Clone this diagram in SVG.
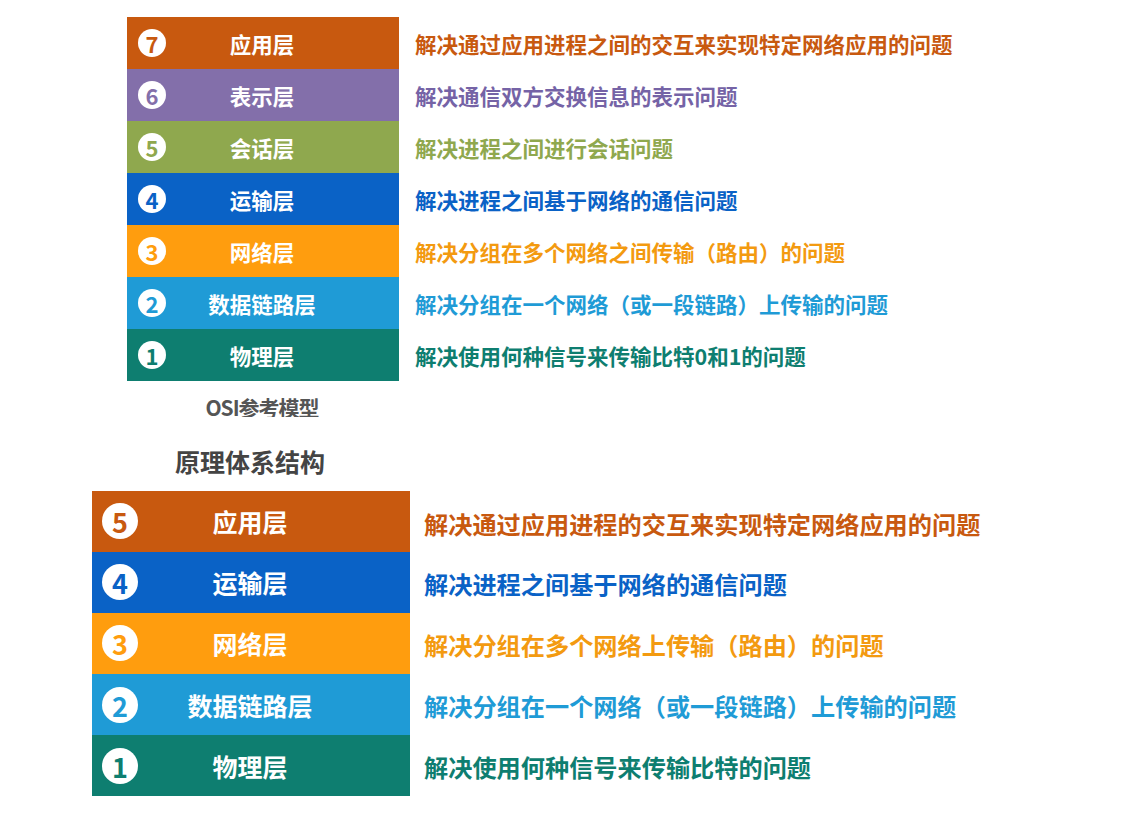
<svg xmlns="http://www.w3.org/2000/svg" width="1131" height="814" viewBox="0 0 1131 814">
<style>
text{font-family:"Noto Sans CJK SC","Noto Sans",sans-serif;font-weight:bold}
.lbl{fill:#fff;text-anchor:middle;dominant-baseline:central}
.t{font-size:21.5px}
.b{font-size:25px}
.nt{font-size:22px}
.nb{font-size:27px}
.num{text-anchor:middle;dominant-baseline:central}
.d1{font-size:21.5px;dominant-baseline:central}
.d2{font-size:24.2px;dominant-baseline:central}
</style>
<defs><clipPath id="cut"><rect x="0" y="0" width="1131" height="417"/></clipPath></defs>
<rect width="1131" height="814" fill="#fff"/>
<g id="osi">
<g id="osi7"><rect x="127" y="17" width="272" height="52" fill="#C8590F"/><circle cx="152" cy="43" r="14" fill="#fff"/><text class="num nt" x="152" y="43" fill="#C8590F">7</text><text class="lbl t" x="262" y="43">应用层</text><text class="d1" x="415" y="43" fill="#C8590F">解决通过应用进程之间的交互来实现特定网络应用的问题</text></g>
<g id="osi6"><rect x="127" y="69" width="272" height="52" fill="#836FAA"/><circle cx="152" cy="95" r="14" fill="#fff"/><text class="num nt" x="152" y="95" fill="#836FAA">6</text><text class="lbl t" x="262" y="95">表示层</text><text class="d1" x="415" y="95" fill="#7563A6">解决通信双方交换信息的表示问题</text></g>
<g id="osi5"><rect x="127" y="121" width="272" height="52" fill="#8FA84E"/><circle cx="152" cy="147" r="14" fill="#fff"/><text class="num nt" x="152" y="147" fill="#8FA84E">5</text><text class="lbl t" x="262" y="147">会话层</text><text class="d1" x="415" y="147" fill="#8FA84E">解决进程之间进行会话问题</text></g>
<g id="osi4"><rect x="127" y="173" width="272" height="52" fill="#0A62C6"/><circle cx="152" cy="199" r="14" fill="#fff"/><text class="num nt" x="152" y="199" fill="#0A62C6">4</text><text class="lbl t" x="262" y="199">运输层</text><text class="d1" x="415" y="199" fill="#0A62C6">解决进程之间基于网络的通信问题</text></g>
<g id="osi3"><rect x="127" y="225" width="272" height="52" fill="#FF9D0E"/><circle cx="152" cy="251" r="14" fill="#fff"/><text class="num nt" x="152" y="251" fill="#FF9D0E">3</text><text class="lbl t" x="262" y="251">网络层</text><text class="d1" x="415" y="251" fill="#F39A10">解决分组在多个网络之间传输（路由）的问题</text></g>
<g id="osi2"><rect x="127" y="277" width="272" height="52" fill="#1F9BD6"/><circle cx="152" cy="303" r="14" fill="#fff"/><text class="num nt" x="152" y="303" fill="#1F9BD6">2</text><text class="lbl t" x="262" y="303">数据链路层</text><text class="d1" x="415" y="303" fill="#1F9BD6">解决分组在一个网络（或一段链路）上传输的问题</text></g>
<g id="osi1"><rect x="127" y="329" width="272" height="52" fill="#0E7E70"/><circle cx="152" cy="355" r="14" fill="#fff"/><text class="num nt" x="152" y="355" fill="#0E7E70">1</text><text class="lbl t" x="262" y="355">物理层</text><text class="d1" x="415" y="355" fill="#0E7E70">解决使用何种信号来传输比特0和1的问题</text></g>
<text x="262" y="416" clip-path="url(#cut)" text-anchor="middle" font-size="21" fill="#555" letter-spacing="-1">OSI参考模型</text>
</g>
<text id="title" x="250" y="472" text-anchor="middle" font-size="25" fill="#444">原理体系结构</text>
<g id="arch">
<g id="a5"><rect x="92" y="491" width="318" height="61" fill="#C8590F"/><circle cx="120" cy="521" r="18" fill="#fff"/><text class="num nb" x="120" y="521" fill="#C8590F">5</text><text class="lbl b" x="250" y="521">应用层</text><text class="d2" x="424" y="523" fill="#C8590F">解决通过应用进程的交互来实现特定网络应用的问题</text></g>
<g id="a4"><rect x="92" y="552" width="318" height="61" fill="#0A62C6"/><circle cx="120" cy="582" r="18" fill="#fff"/><text class="num nb" x="120" y="582" fill="#0A62C6">4</text><text class="lbl b" x="250" y="582">运输层</text><text class="d2" x="424" y="583" fill="#0A62C6">解决进程之间基于网络的通信问题</text></g>
<g id="a3"><rect x="92" y="613" width="318" height="61" fill="#FF9D0E"/><circle cx="120" cy="643" r="18" fill="#fff"/><text class="num nb" x="120" y="643" fill="#FF9D0E">3</text><text class="lbl b" x="250" y="643">网络层</text><text class="d2" x="424" y="644" fill="#F39A10">解决分组在多个网络上传输（路由）的问题</text></g>
<g id="a2"><rect x="92" y="674" width="318" height="61" fill="#1F9BD6"/><circle cx="120" cy="705" r="18" fill="#fff"/><text class="num nb" x="120" y="705" fill="#1F9BD6">2</text><text class="lbl b" x="250" y="705">数据链路层</text><text class="d2" x="424" y="705" fill="#1F9BD6">解决分组在一个网络（或一段链路）上传输的问题</text></g>
<g id="a1"><rect x="92" y="735" width="318" height="61" fill="#0E7E70"/><circle cx="120" cy="766" r="18" fill="#fff"/><text class="num nb" x="120" y="766" fill="#0E7E70">1</text><text class="lbl b" x="250" y="766">物理层</text><text class="d2" x="424" y="766" fill="#0E7E70">解决使用何种信号来传输比特的问题</text></g>
</g>
<g id="connectors"/>
</svg>
